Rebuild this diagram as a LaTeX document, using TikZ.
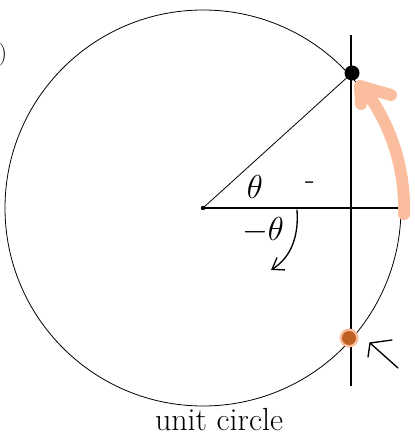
\documentclass[tikz,border=0pt]{standalone}
\usetikzlibrary{arrows.meta}
\definecolor{peach}{RGB}{250,190,158}
\definecolor{burnt}{RGB}{190,95,35}
\begin{document}
\begin{tikzpicture}[x=0.75pt,y=-0.75pt,
  thinline/.style={line width=0.6pt,black},
  axisline/.style={line width=1pt,black},
  hand/.style={line width=1pt,black,line cap=round,line join=round},
  lbl/.style={font=\fontsize{24}{26}\selectfont,inner sep=0pt}]
\useasboundingbox (0,0) rectangle (414,438);
% circle
\coordinate (O) at (203,208);
\draw[thinline] (O) circle (198);
% vertical line
\coordinate (vt) at (351,35);
\coordinate (vb) at (351,386);
\draw[axisline] (vt) -- (vb);
% horizontal radius
\coordinate (E) at (403,208);
\draw[axisline] (O) -- (E);
% radius to point
\coordinate (P) at (352,73);
\draw[thinline] (O) -- (P);
\fill (O) circle (2.2);
% orange arc arrow
\draw[peach,line width=9pt,line cap=round,line join=round]
  (404,214) arc[start angle=1.7, end angle=-37, radius=198];
\draw[peach,line width=9pt,line cap=round,line join=round]
  (361,104) -- (360,86) -- (391,95);
\fill[black] (P) circle (7.5);
% orange point
\coordinate (Q) at (349,338);
\fill[peach] (Q) circle (9.5);
\fill[burnt] (Q) circle (7);
% labels
\node[lbl] (th) at (255,187) {$\theta$};
\node[lbl] (dash) at (310,186) {-};
\node[lbl] (mth) at (263,230) {$-\theta$};
% curved arrow
\coordinate (ca) at (297,210);
\coordinate (cb) at (271,270);
\draw[hand,-{Straight Barb[length=8pt,width=11pt]}] (ca) .. controls (299,238) and (290,258) .. (cb);
% small arrow near orange point
\coordinate (sa) at (398,368);
\coordinate (sb) at (370,343);
\draw[hand] (sa) -- (sb) -- (392,340);
\draw[hand] (sb) -- (368,357);
% bottom text
\node[font=\fontsize{24}{26}\selectfont,inner sep=0pt] (cap) at (219,420) {unit circle};
% top-left fragment
\node[font=\LARGE,inner sep=0pt] (par) at (3,55) {)};
\end{tikzpicture}
\end{document}
